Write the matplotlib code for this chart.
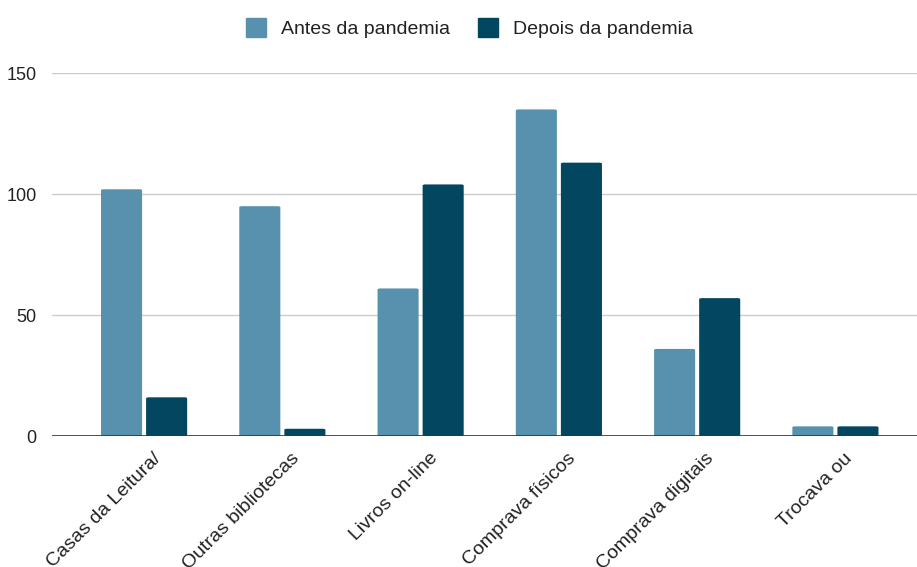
import numpy as np
import matplotlib.pyplot as plt
from matplotlib.patches import FancyBboxPatch

plt.rcParams['font.family'] = ['Liberation Sans', 'DejaVu Sans']

categorias = ["Casas da Leitura/", "Outras bibliotecas", "Livros on-line",
              "Comprava físicos", "Comprava digitais", "Trocava ou"]
antes = [102, 95, 61, 135, 36, 4]
depois = [16, 3, 104, 113, 57, 4]
series = ["Antes da pandemia", "Depois da pandemia"]
cores = ["#5891ad", "#02465f"]

fig = plt.figure(figsize=(9.17, 5.67), dpi=100)
ax = fig.add_axes([0.0567, 0.231, 0.9433, 0.640])

x = np.arange(len(categorias))
largura = 0.297
desloc = 0.163

for vals, off, cor, nome in zip([antes, depois], [-desloc, desloc], cores, series):
    barras = ax.bar(x + off, vals, largura, color=cor, label=nome, zorder=3)
    # cantos arredondados no topo
    for b in barras:
        b.set_visible(False)
        p = FancyBboxPatch((b.get_x(), 0), b.get_width(), b.get_height(),
                           boxstyle="round,pad=0,rounding_size=0.02",
                           mutation_aspect=20, facecolor=cor, edgecolor='none', zorder=3)
        ax.add_patch(p)

ax.set_xlim(-0.666, 5.59)
ax.set_ylim(0, 150)
ax.set_yticks([0, 50, 100, 150])
ax.yaxis.grid(True, color='#cccccc', linewidth=1)
ax.set_axisbelow(True)
ax.axhline(0, color='#333333', linewidth=1.2, zorder=4)
for s in ax.spines.values():
    s.set_visible(False)
ax.tick_params(axis='both', length=0, labelsize=13, colors='#222222')
ax.tick_params(axis='y', pad=11)

ax.set_xticks(x + 0.06)
ax.set_xticklabels(categorias, rotation=45, ha='right', rotation_mode='anchor', fontsize=14)
ax.tick_params(axis='x', pad=10)

handles = [plt.Rectangle((0, 0), 1, 1, color=c) for c in cores]
fig.legend(handles, series, loc='center', bbox_to_anchor=(0.512, 0.95), ncol=2,
           frameon=False, fontsize=14, handlelength=1.0, handleheight=1.1,
           handletextpad=0.77, columnspacing=1.45, labelcolor='#222222')

fig.savefig("out.png", dpi=100)
